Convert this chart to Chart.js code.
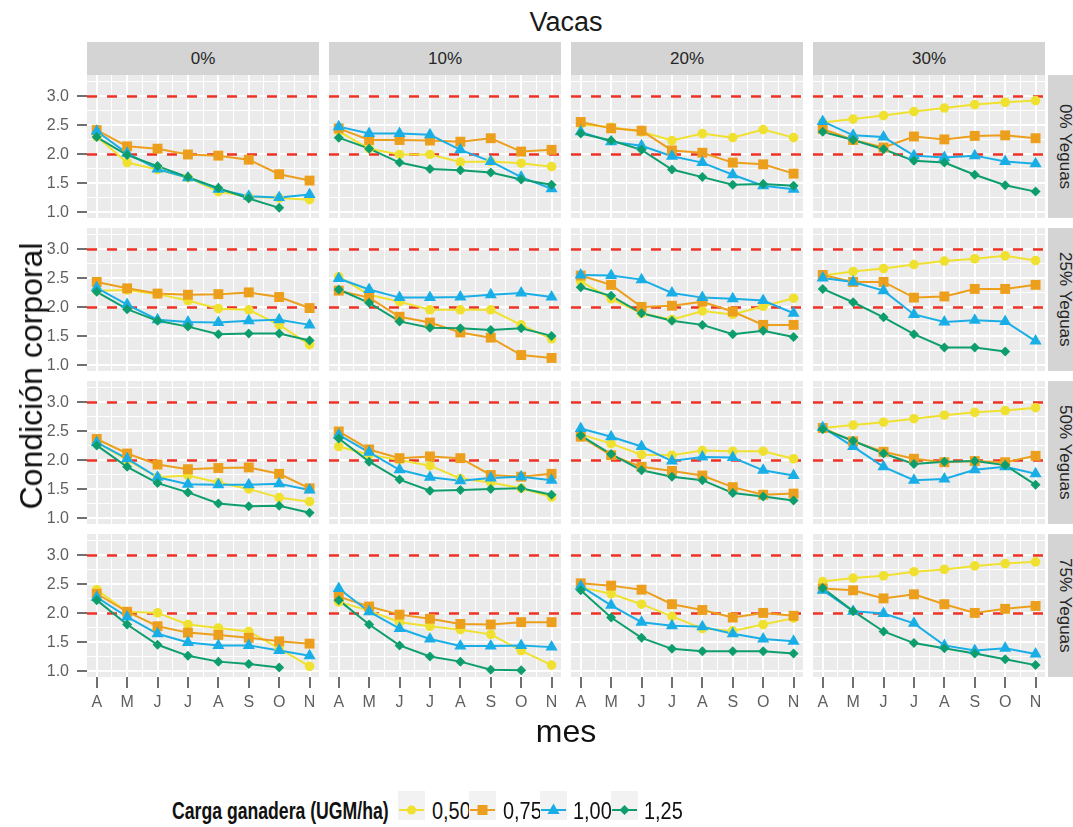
<!DOCTYPE html>
<html>
<head>
<meta charset="utf-8">
<title>Condición corporal por mes</title>
<script src="https://cdn.jsdelivr.net/npm/chart.js@4.4.1/dist/chart.umd.min.js"></script>
<style>
  html, body { margin: 0; padding: 0; background: #ffffff; }
  #fig { position: relative; width: 1073px; height: 827px; overflow: hidden; background: #ffffff;
         font-family: 'Liberation Sans', Arial, Helvetica, sans-serif; }
  #fig canvas { position: absolute; }
  .txt { position: absolute; line-height: 1; white-space: nowrap; }
  .strip { position: absolute; background: #D4D4D4; color: #262626; font-size: 17px;
           display: flex; align-items: center; justify-content: center; }
  .vstrip span { writing-mode: vertical-rl; }
  .leg { font-family: 'Liberation Sans', Arial, sans-serif; color: #111; transform-origin: left center; }
</style>
</head>
<body>
<div id="fig"></div>
<script>
// ---- categories ----
const months = ['A', 'M', 'J', 'J', 'A', 'S', 'O', 'N'];
const cowLevels = ['0%', '10%', '20%', '30%'];
const mareLevels = ['0% Yeguas', '25% Yeguas', '50% Yeguas', '75% Yeguas'];
const stockingRates = ['0,50', '0,75', '1,00', '1,25'];
const refLines = [2, 3];
const yTickValues = [1.0, 1.25, 1.5, 1.75, 2.0, 2.25, 2.5, 2.75, 3.0, 3.25];
const xTickValues = [0, 0.5, 1, 1.5, 2, 2.5, 3, 3.5, 4, 4.5, 5, 5.5, 6, 6.5, 7];

// ---- body condition per panel: rows = stocking rate 0,50 / 0,75 / 1,00 / 1,25 ----
// 0% Yeguas
const yeg0_vac0 = [
  [2.31, 1.86, 1.74, 1.60, 1.36, 1.27, 1.25, 1.22],
  [2.42, 2.14, 2.10, 2.00, 1.98, 1.91, 1.66, 1.55],
  [2.40, 2.02, 1.75, 1.60, 1.40, 1.28, 1.26, 1.31],
  [2.30, 1.99, 1.80, 1.61, 1.42, 1.24, 1.08, null]
];
const yeg0_vac10 = [
  [2.40, 2.10, 2.00, 2.00, 1.87, 1.88, 1.85, 1.79],
  [2.45, 2.25, 2.25, 2.24, 2.22, 2.28, 2.05, 2.08],
  [2.48, 2.36, 2.36, 2.34, 2.08, 1.88, 1.61, 1.41],
  [2.29, 2.10, 1.86, 1.75, 1.73, 1.69, 1.57, 1.48]
];
const yeg0_vac20 = [
  [2.52, 2.47, 2.39, 2.24, 2.36, 2.29, 2.43, 2.29],
  [2.56, 2.45, 2.41, 2.07, 2.03, 1.86, 1.83, 1.67],
  [2.39, 2.22, 2.15, 1.97, 1.86, 1.65, 1.46, 1.40],
  [2.36, 2.24, 2.08, 1.74, 1.61, 1.48, 1.49, 1.46]
];
const yeg0_vac30 = [
  [2.55, 2.61, 2.67, 2.74, 2.80, 2.86, 2.90, 2.93],
  [2.44, 2.25, 2.12, 2.31, 2.26, 2.32, 2.33, 2.28],
  [2.57, 2.33, 2.30, 1.98, 1.95, 1.98, 1.88, 1.84],
  [2.39, 2.25, 2.09, 1.89, 1.86, 1.65, 1.47, 1.36]
];
// 25% Yeguas
const yeg25_vac0 = [
  [2.29, 2.30, 2.23, 2.12, 1.98, 1.96, 1.70, 1.36],
  [2.44, 2.33, 2.24, 2.22, 2.23, 2.26, 2.18, 1.99],
  [2.34, 2.05, 1.79, 1.75, 1.74, 1.77, 1.79, 1.70],
  [2.27, 1.97, 1.77, 1.67, 1.54, 1.55, 1.55, 1.43]
];
const yeg25_vac10 = [
  [2.53, 2.22, 2.10, 1.96, 1.96, 1.96, 1.70, 1.46],
  [2.29, 2.17, 1.84, 1.74, 1.57, 1.48, 1.18, 1.13],
  [2.50, 2.31, 2.17, 2.17, 2.18, 2.22, 2.25, 2.18],
  [2.31, 2.08, 1.76, 1.65, 1.64, 1.61, 1.64, 1.51]
];
const yeg25_vac20 = [
  [2.45, 2.15, 1.90, 1.79, 1.94, 1.88, 2.02, 2.16],
  [2.55, 2.39, 2.01, 2.03, 2.10, 1.93, 1.70, 1.70],
  [2.56, 2.55, 2.48, 2.25, 2.17, 2.15, 2.12, 1.90],
  [2.35, 2.20, 1.90, 1.77, 1.70, 1.54, 1.60, 1.49]
];
const yeg25_vac30 = [
  [2.55, 2.62, 2.67, 2.74, 2.80, 2.84, 2.89, 2.81],
  [2.56, 2.44, 2.44, 2.17, 2.19, 2.32, 2.32, 2.39],
  [2.51, 2.44, 2.29, 1.88, 1.75, 1.78, 1.76, 1.42],
  [2.32, 2.09, 1.83, 1.54, 1.31, 1.31, 1.24, null]
];
// 50% Yeguas
const yeg50_vac0 = [
  [2.31, 2.01, 1.71, 1.74, 1.62, 1.51, 1.36, 1.29],
  [2.37, 2.12, 1.93, 1.85, 1.87, 1.88, 1.77, 1.52],
  [2.31, 2.03, 1.71, 1.59, 1.58, 1.58, 1.60, 1.49],
  [2.26, 1.89, 1.61, 1.45, 1.26, 1.21, 1.22, 1.10]
];
const yeg50_vac10 = [
  [2.24, 2.10, 2.01, 1.91, 1.69, 1.62, 1.52, 1.37],
  [2.50, 2.19, 2.04, 2.07, 2.04, 1.75, 1.72, 1.77],
  [2.44, 2.14, 1.84, 1.71, 1.65, 1.70, 1.72, 1.66],
  [2.38, 1.98, 1.67, 1.48, 1.49, 1.51, 1.52, 1.41]
];
const yeg50_vac20 = [
  [2.45, 2.29, 2.10, 2.09, 2.17, 2.16, 2.16, 2.03],
  [2.41, 2.09, 1.89, 1.82, 1.74, 1.54, 1.41, 1.43],
  [2.55, 2.41, 2.24, 1.99, 2.06, 2.05, 1.83, 1.74],
  [2.43, 2.11, 1.83, 1.72, 1.66, 1.44, 1.38, 1.31]
];
const yeg50_vac30 = [
  [2.56, 2.61, 2.66, 2.72, 2.78, 2.83, 2.86, 2.91],
  [2.56, 2.33, 2.15, 2.03, 1.97, 1.99, 1.97, 2.08],
  [2.57, 2.24, 1.89, 1.66, 1.68, 1.84, 1.89, 1.77],
  [2.54, 2.34, 2.12, 1.94, 1.98, 1.99, 1.92, 1.58]
];
// 75% Yeguas
const yeg75_vac0 = [
  [2.41, 2.03, 2.01, 1.81, 1.75, 1.69, 1.40, 1.09],
  [2.34, 2.03, 1.78, 1.67, 1.63, 1.58, 1.52, 1.48],
  [2.28, 1.94, 1.65, 1.50, 1.45, 1.45, 1.36, 1.27],
  [2.23, 1.81, 1.46, 1.27, 1.17, 1.13, 1.07, null]
];
const yeg75_vac10 = [
  [2.20, 2.05, 1.85, 1.78, 1.72, 1.64, 1.36, 1.11],
  [2.29, 2.12, 1.98, 1.91, 1.82, 1.81, 1.85, 1.85],
  [2.43, 2.03, 1.74, 1.56, 1.44, 1.44, 1.45, 1.42],
  [2.23, 1.81, 1.45, 1.26, 1.17, 1.03, 1.02, null]
];
const yeg75_vac20 = [
  [2.45, 2.34, 2.16, 1.95, 1.74, 1.70, 1.81, 1.92],
  [2.52, 2.48, 2.41, 2.16, 2.06, 1.93, 2.01, 1.96],
  [2.47, 2.14, 1.85, 1.79, 1.77, 1.65, 1.56, 1.52],
  [2.40, 1.93, 1.58, 1.39, 1.35, 1.35, 1.35, 1.31]
];
const yeg75_vac30 = [
  [2.55, 2.61, 2.65, 2.72, 2.76, 2.82, 2.86, 2.89],
  [2.43, 2.40, 2.26, 2.33, 2.16, 2.01, 2.08, 2.13],
  [2.40, 2.04, 2.00, 1.83, 1.45, 1.36, 1.40, 1.30],
  [2.44, 2.04, 1.69, 1.49, 1.40, 1.31, 1.21, 1.11]
];

const panelRows = [
  [yeg0_vac0,  yeg0_vac10,  yeg0_vac20,  yeg0_vac30],
  [yeg25_vac0, yeg25_vac10, yeg25_vac20, yeg25_vac30],
  [yeg50_vac0, yeg50_vac10, yeg50_vac20, yeg50_vac30],
  [yeg75_vac0, yeg75_vac10, yeg75_vac20, yeg75_vac30]
];

// ---- styling and layout ----
const seriesColors = ['#F0E130', '#EC9F1C', '#1AAEE6', '#0E9E6E'];
const seriesShapes = ['circle', 'rect', 'triangle', 'rectRot'];
const seriesRadius = [4.8, 7, 7, 5];
const refColor = '#EE3124';
const colLeft = [87, 329, 571, 813];
const rowTop = [75, 228, 381, 534];
const panelW = 232, panelH = 143;
const xRange = [-0.32, 7.31];
const yRange = [0.905, 3.37];
const tickFont = { family: "'Liberation Sans', Arial, sans-serif", size: 16 };
const tickTextColor = '#5F5F5F';
const tickMarkColor = '#707070';

const fig = document.getElementById('fig');

function addText(html, css, cls) {
  const d = document.createElement('div');
  d.className = cls || 'txt';
  d.innerHTML = html;
  Object.assign(d.style, css);
  fig.appendChild(d);
  return d;
}

const isHalfStep = v => Math.abs(v * 2 - Math.round(v * 2)) < 1e-9;

const panelBackground = {
  id: 'panelBackground',
  beforeDraw(chart) {
    const { ctx, chartArea: a } = chart;
    ctx.save();
    ctx.fillStyle = '#EBEBEB';
    ctx.fillRect(a.left, a.top, a.right - a.left, a.bottom - a.top);
    ctx.restore();
  }
};

const referenceLines = {
  id: 'referenceLines',
  beforeDatasetsDraw(chart) {
    const { ctx, chartArea: a, scales } = chart;
    ctx.save();
    ctx.beginPath();
    ctx.rect(a.left, a.top, a.right - a.left, a.bottom - a.top);
    ctx.clip();
    ctx.strokeStyle = refColor;
    ctx.lineWidth = 2.5;
    ctx.setLineDash([10, 10]);
    refLines.forEach(v => {
      const py = scales.y.getPixelForValue(v);
      ctx.beginPath();
      ctx.moveTo(a.left, py);
      ctx.lineTo(a.right, py);
      ctx.stroke();
    });
    ctx.restore();
  }
};

function makePanel(r, c, seriesVals) {
  const isLeft = c === 0;
  const isBottom = r === panelRows.length - 1;
  const yAxisW = isLeft ? colLeft[0] : 0;
  const xAxisH = isBottom ? 50 : 0;
  const w = yAxisW + panelW, h = panelH + xAxisH;

  const cv = document.createElement('canvas');
  cv.width = w; cv.height = h;
  cv.style.left = (colLeft[c] - yAxisW) + 'px';
  cv.style.top = rowTop[r] + 'px';
  cv.style.width = w + 'px';
  cv.style.height = h + 'px';
  fig.appendChild(cv);

  const datasets = [];
  // lines first (higher order draws earlier), then the markers on top
  seriesVals.forEach((vals, s) => {
    const pts = vals.map((v, i) => ({ x: i, y: v }));
    datasets.push({
      label: stockingRates[s], data: pts, borderColor: seriesColors[s], borderWidth: 2,
      pointRadius: 0, pointHoverRadius: 0, spanGaps: false, order: 20 - s
    });
    datasets.push({
      label: stockingRates[s], data: pts, showLine: false, pointStyle: seriesShapes[s],
      pointRadius: seriesRadius[s], pointHoverRadius: seriesRadius[s],
      pointBackgroundColor: seriesColors[s], pointBorderWidth: 0, borderColor: seriesColors[s],
      order: 10 - s
    });
  });

  new Chart(cv, {
    type: 'line',
    data: { datasets },
    options: {
      responsive: false, animation: false, devicePixelRatio: 1, events: [],
      layout: { padding: 0, autoPadding: false },
      plugins: { legend: { display: false }, tooltip: { enabled: false }, title: { display: false } },
      scales: {
        x: {
          type: 'linear', min: xRange[0], max: xRange[1],
          afterBuildTicks: sc => { sc.ticks = xTickValues.map(v => ({ value: v })); },
          afterFit: sc => { sc.height = xAxisH; sc.paddingLeft = 0; sc.paddingRight = 0; sc.paddingTop = 0; sc.paddingBottom = 0; },
          border: { display: false },
          ticks: {
            display: isBottom, autoSkip: false, maxRotation: 0, minRotation: 0, padding: 5,
            color: tickTextColor, font: tickFont,
            callback: v => Number.isInteger(v) ? months[v] : ''
          },
          grid: {
            color: '#FFFFFF',
            lineWidth: ctx => Number.isInteger(ctx.tick.value) ? 2 : 1,
            drawTicks: isBottom, tickLength: 11, tickWidth: 2,
            tickColor: ctx => Number.isInteger(ctx.tick.value) ? tickMarkColor : 'rgba(0,0,0,0)'
          }
        },
        y: {
          type: 'linear', min: yRange[0], max: yRange[1],
          afterBuildTicks: sc => { sc.ticks = yTickValues.map(v => ({ value: v })); },
          afterFit: sc => { sc.width = yAxisW; sc.paddingTop = 0; sc.paddingBottom = 0; sc.paddingLeft = 0; sc.paddingRight = 0; },
          border: { display: false },
          ticks: {
            display: isLeft, autoSkip: false, padding: 8, color: tickTextColor, font: tickFont,
            callback: v => isHalfStep(v) ? v.toFixed(1) : ''
          },
          grid: {
            color: '#FFFFFF',
            lineWidth: ctx => isHalfStep(ctx.tick.value) ? 2 : 1,
            drawTicks: isLeft, tickLength: 10, tickWidth: 2,
            tickColor: ctx => isHalfStep(ctx.tick.value) ? tickMarkColor : 'rgba(0,0,0,0)'
          }
        }
      }
    },
    plugins: [panelBackground, referenceLines]
  });
}

// ---- panels ----
panelRows.forEach((row, r) => row.forEach((vals, c) => makePanel(r, c, vals)));

// ---- facet strips ----
cowLevels.forEach((lab, c) => {
  addText('<span>' + lab + '</span>', { left: colLeft[c] + 'px', top: '42px', width: panelW + 'px', height: '33px' }, 'strip');
});
mareLevels.forEach((lab, r) => {
  addText('<span>' + lab + '</span>', { left: '1048px', top: rowTop[r] + 'px', width: '33px', height: panelH + 'px' }, 'strip vstrip');
});

// ---- titles ----
addText('Vacas', { left: '566px', top: '22px', fontSize: '27px', color: '#1a1a1a', transform: 'translate(-50%, -50%)' });
addText('mes', { left: '566px', top: '731px', fontSize: '32px', color: '#111', transform: 'translate(-50%, -50%)' });
addText('Condición corporal', { left: '31px', top: '376px', fontSize: '32px', color: '#111', transform: 'translate(-50%, -50%) rotate(-90deg)' });

// ---- legend ----
addText('<b>Carga ganadera (UGM/ha)</b>', { left: '172px', top: '799px', fontSize: '24px', transform: 'scaleX(0.735)' }, 'txt leg');
const keyLeft = [398, 469, 540, 611];
const keyLabelLeft = [432, 503, 573, 644];
function keySvg(s) {
  const col = seriesColors[s];
  let mark = '';
  if (s === 0) mark = `<circle cx="13.5" cy="19" r="4.6" fill="${col}"/>`;
  if (s === 1) mark = `<rect x="8.5" y="14" width="10" height="10" fill="${col}"/>`;
  if (s === 2) mark = `<polygon points="13.5,12.5 19.6,23 7.4,23" fill="${col}"/>`;
  if (s === 3) mark = `<polygon points="13.5,14 18.5,19 13.5,24 8.5,19" fill="${col}"/>`;
  return `<svg width="27" height="29" viewBox="0 0 27 29"><rect x="0" y="0" width="27" height="29" fill="#F2F2F2"/>` +
         `<line x1="1" y1="19" x2="26" y2="19" stroke="${col}" stroke-width="2"/>${mark}</svg>`;
}
stockingRates.forEach((lab, s) => {
  addText(keySvg(s), { left: keyLeft[s] + 'px', top: '791px' });
  addText(lab, { left: keyLabelLeft[s] + 'px', top: '799px', fontSize: '24px', transform: 'scaleX(0.83)' }, 'txt leg');
});
</script>
</body>
</html>
